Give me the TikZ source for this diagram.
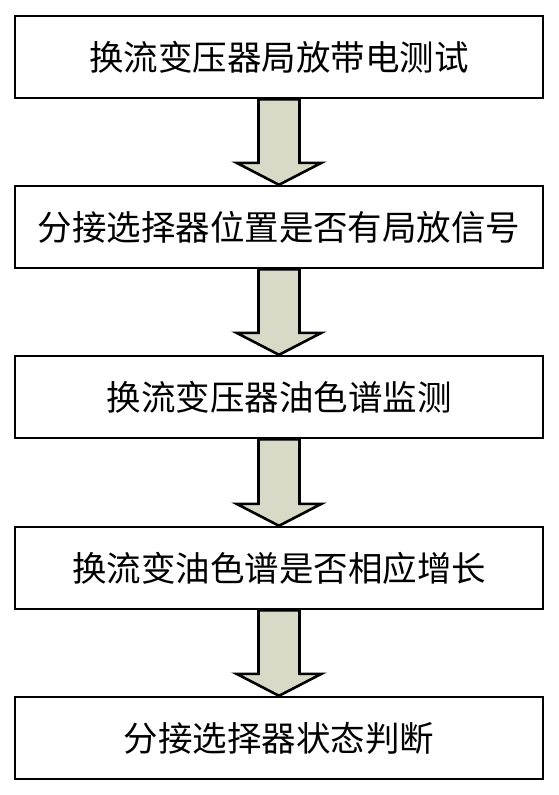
\documentclass[tikz,border=0pt]{standalone}
\usepackage{fontspec}
\usepackage{tikz, xcolor}
\usetikzlibrary{shapes,arrows}
\newfontfamily\cjk{Noto Sans CJK SC}
\definecolor{arrowfill}{RGB}{216,217,198}

\begin{document}
\begin{tikzpicture}[x=1pt, y=-1pt]
\tikzstyle{stepbox}=[rectangle, draw=black, line width=2.4pt, minimum width=528pt, minimum height=82pt, inner sep=0pt, font=\cjk\fontsize{34.5}{38}\selectfont]
\tikzstyle{fatarrow}=[draw=black, line width=2.6pt, fill=arrowfill, line join=miter]

\useasboundingbox (0,0) rectangle (559,795);

\node[stepbox] (S0) at (279,57) {换流变压器局放带电测试};
\node[stepbox] (S1) at (279,227) {分接选择器位置是否有局放信号};
\node[stepbox] (S2) at (279,397) {换流变压器油色谱监测};
\node[stepbox] (S3) at (279,568) {换流变油色谱是否相应增长};
\node[stepbox] (S4) at (279,738) {分接选择器状态判断};

\draw[fatarrow] ([xshift=-20.5pt]S0.south) -- ([xshift=-20.5pt,yshift=22pt]S1.north) -- ([xshift=-42.5pt,yshift=22pt]S1.north) -- (S1.north) -- ([xshift=42.5pt,yshift=22pt]S1.north) -- ([xshift=20.5pt,yshift=22pt]S1.north) -- ([xshift=20.5pt]S0.south) -- cycle;
\draw[fatarrow] ([xshift=-20.5pt]S1.south) -- ([xshift=-20.5pt,yshift=22pt]S2.north) -- ([xshift=-42.5pt,yshift=22pt]S2.north) -- (S2.north) -- ([xshift=42.5pt,yshift=22pt]S2.north) -- ([xshift=20.5pt,yshift=22pt]S2.north) -- ([xshift=20.5pt]S1.south) -- cycle;
\draw[fatarrow] ([xshift=-20.5pt]S2.south) -- ([xshift=-20.5pt,yshift=22pt]S3.north) -- ([xshift=-42.5pt,yshift=22pt]S3.north) -- (S3.north) -- ([xshift=42.5pt,yshift=22pt]S3.north) -- ([xshift=20.5pt,yshift=22pt]S3.north) -- ([xshift=20.5pt]S2.south) -- cycle;
\draw[fatarrow] ([xshift=-20.5pt]S3.south) -- ([xshift=-20.5pt,yshift=22pt]S4.north) -- ([xshift=-42.5pt,yshift=22pt]S4.north) -- (S4.north) -- ([xshift=42.5pt,yshift=22pt]S4.north) -- ([xshift=20.5pt,yshift=22pt]S4.north) -- ([xshift=20.5pt]S3.south) -- cycle;
\end{tikzpicture}
\end{document}
